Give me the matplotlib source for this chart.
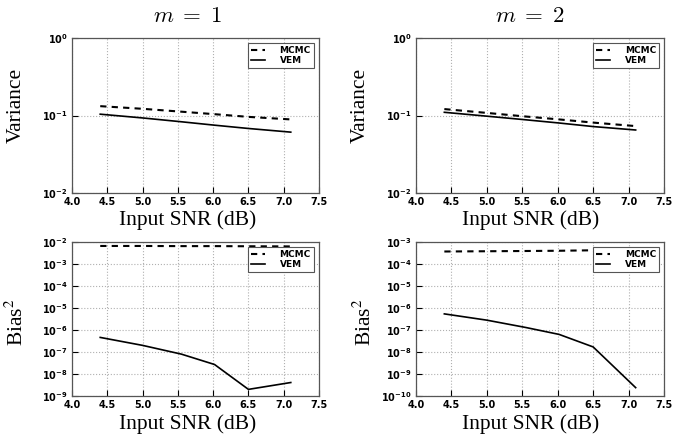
import matplotlib
matplotlib.use("Agg")
import matplotlib.pyplot as plt
from matplotlib.ticker import NullLocator, FixedLocator

snr = [4.4, 5.0, 5.55, 6.02, 6.5, 7.1]

# variance, m = 1
var_mcmc_m1 = [0.132, 0.122, 0.112, 0.104, 0.096, 0.089]
var_vem_m1 = [0.104, 0.093, 0.083, 0.075, 0.068, 0.061]
# variance, m = 2
var_mcmc_m2 = [0.121, 0.108, 0.097, 0.089, 0.081, 0.073]
var_vem_m2 = [0.110, 0.098, 0.088, 0.080, 0.072, 0.065]

# bias^2, m = 1
bias_mcmc_m1 = [6.6e-3, 6.6e-3, 6.5e-3, 6.5e-3, 6.4e-3, 6.3e-3]
bias_vem_m1 = [4.6e-7, 2.0e-7, 8.0e-8, 2.7e-8, 2.0e-9, 4.1e-9]
# bias^2, m = 2
bias_mcmc_m2 = [3.7e-4, 3.8e-4, 3.9e-4, 4.0e-4, 4.2e-4, 4.3e-4]
bias_vem_m2 = [5.4e-7, 2.8e-7, 1.3e-7, 6.3e-8, 1.7e-8, 2.4e-10]

titles = ["$m\\;=\\;1$", "$m\\;=\\;2$"]
xticks = [4.0, 4.5, 5.0, 5.5, 6.0, 6.5, 7.0, 7.5]

fig = plt.figure(figsize=(6.77, 4.41), dpi=100)
W, H = 677.0, 441.0


def make_axes(x0, y0, x1, y1):
    return fig.add_axes([x0 / W, 1 - y1 / H, (x1 - x0) / W, (y1 - y0) / H])


def ftext(x, y, s, **kw):
    # place text by pixel position measured from top-left
    fig.text(x / W, 1 - y / H, s, ha="center", va="center", **kw)


def style(ax, ylo, yhi):
    ax.set_yscale("log")
    ax.set_xlim(4.0, 7.5)
    ax.set_ylim(10.0 ** ylo, 10.0 ** yhi)
    ax.xaxis.set_major_locator(FixedLocator(xticks))
    ax.set_xticklabels([f"{v:.1f}" for v in xticks])
    ax.yaxis.set_major_locator(FixedLocator([10.0 ** k for k in range(ylo, yhi + 1)]))
    ax.set_yticklabels([f"$\\mathbf{{10^{{{k}}}}}$" for k in range(ylo, yhi + 1)])
    ax.yaxis.set_minor_locator(NullLocator())
    ax.tick_params(direction="in", length=4, width=0.8, labelsize=7, colors="black", pad=3)
    for lab in ax.get_xticklabels():
        lab.set_fontweight("bold")
    ax.grid(True, linestyle=":", color="#b0b0b0", linewidth=0.8)
    for s in ax.spines.values():
        s.set_color("#555555")
        s.set_linewidth(0.9)


panels = [
    (72, 38, 319, 193, var_mcmc_m1, var_vem_m1, -2, 0),
    (416, 38, 664, 193, var_mcmc_m2, var_vem_m2, -2, 0),
    (72, 242, 319, 396, bias_mcmc_m1, bias_vem_m1, -9, -2),
    (416, 242, 664, 396, bias_mcmc_m2, bias_vem_m2, -10, -3),
]

for x0, y0, x1, y1, mcmc, vem, ylo, yhi in panels:
    ax = make_axes(x0, y0, x1, y1)
    ax.plot(snr, mcmc, "k--", linewidth=1.5, dashes=(3, 2.5), label="MCMC")
    ax.plot(snr, vem, "k-", linewidth=1.2, label="VEM")
    style(ax, ylo, yhi)
    leg = ax.legend(loc="upper right", prop={"size": 6.5, "weight": "bold"},
                    fancybox=False, framealpha=1, edgecolor="#555555",
                    borderpad=0.3, handlelength=1.6, handletextpad=1.6,
                    labelspacing=0.15, borderaxespad=0.6)
    leg.get_frame().set_linewidth(0.8)

serif = dict(family="Liberation Serif", fontsize=15.5)
for cx in (188, 531):
    ftext(cx, 220, "Input SNR (dB)", **serif)
    ftext(cx, 424, "Input SNR (dB)", **serif)
ftext(187, 16, titles[0], fontsize=16.5, math_fontfamily="cm")
ftext(530, 16, titles[1], fontsize=16.5, math_fontfamily="cm")
ftext(16, 105, "Variance", rotation=90, **serif)
ftext(360, 105, "Variance", rotation=90, **serif)
ftext(17, 322, "Bias$^2$", rotation=90, math_fontfamily="stix", **serif)
ftext(365, 322, "Bias$^2$", rotation=90, math_fontfamily="stix", **serif)

fig.savefig("out.png", dpi=100)
